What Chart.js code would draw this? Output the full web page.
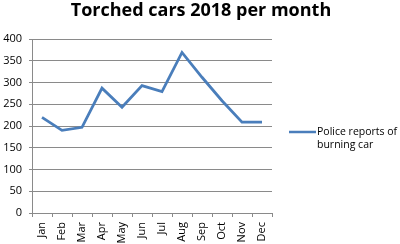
<!DOCTYPE html>
<html><head><meta charset="utf-8">
<script src="https://cdn.jsdelivr.net/npm/chart.js@4"></script>
<style>html,body{margin:0;padding:0;background:#fff}</style>
</head><body>
<canvas id="c" width="400" height="244" style="width:400px;height:244px;display:block"></canvas>
<script>
const months = ["Jan","Feb","Mar","Apr","May","Jun","Jul","Aug","Sep","Oct","Nov","Dec"];
const reports = [220,190,197,287,243,293,279,369,312,258,209,209];
const seriesLabel = ["Police reports of","burning car"];
const titleText = "Torched cars 2018 per month";
const yMin = 0, yMax = 400, yStep = 50;

const gridCol = '#8a8a8a';
const lineCol = '#4a7ebb';
const fontFam = "'Open Sans', sans-serif";

const decorPlugin = {
  id: 'decor',
  afterDraw(chart) {
    const ctx = chart.ctx;
    ctx.save();
    // title
    ctx.fillStyle = '#000';
    ctx.font = "bold 18px " + fontFam;
    ctx.textAlign = 'center';
    ctx.textBaseline = 'middle';
    ctx.fillText(titleText, 201, 11);
    // legend
    ctx.strokeStyle = lineCol;
    ctx.lineWidth = 2.5;
    ctx.beginPath();
    ctx.moveTo(289, 132);
    ctx.lineTo(316, 132);
    ctx.stroke();
    ctx.font = "10.5px " + fontFam;
    ctx.textAlign = 'left';
    seriesLabel.forEach((t, i) => ctx.fillText(t, 317, 132 + i * 13.5));
    ctx.restore();
  }
};

new Chart(document.getElementById('c'), {
  type: 'line',
  data: {
    labels: months,
    datasets: [{
      label: seriesLabel.join(' '),
      data: reports,
      borderColor: lineCol,
      borderWidth: 2.8,
      pointRadius: 0,
      tension: 0,
      fill: false
    }]
  },
  options: {
    responsive: false,
    animation: false,
    layout: { padding: { left: 0, right: 128, top: 39, bottom: 0 } },
    plugins: {
      legend: { display: false },
      tooltip: { enabled: false },
      title: { display: false }
    },
    scales: {
      x: {
        offset: true,
        grid: { display: true, drawOnChartArea: false, offset: true, tickLength: 4, color: gridCol },
        border: { color: gridCol, width: 1 },
        ticks: { minRotation: 90, maxRotation: 90, padding: 5, color: '#000', font: { family: fontFam, size: 11 } },
        afterFit(s) { s.height = 31; }
      },
      y: {
        min: yMin, max: yMax,
        grid: { color: gridCol, tickLength: 3 },
        border: { color: gridCol, width: 1 },
        ticks: { stepSize: yStep, padding: 7, color: '#000', font: { family: fontFam, size: 11 } },
        afterFit(s) { s.width = 32; }
      }
    }
  },
  plugins: [decorPlugin]
});
</script>
</body></html>
